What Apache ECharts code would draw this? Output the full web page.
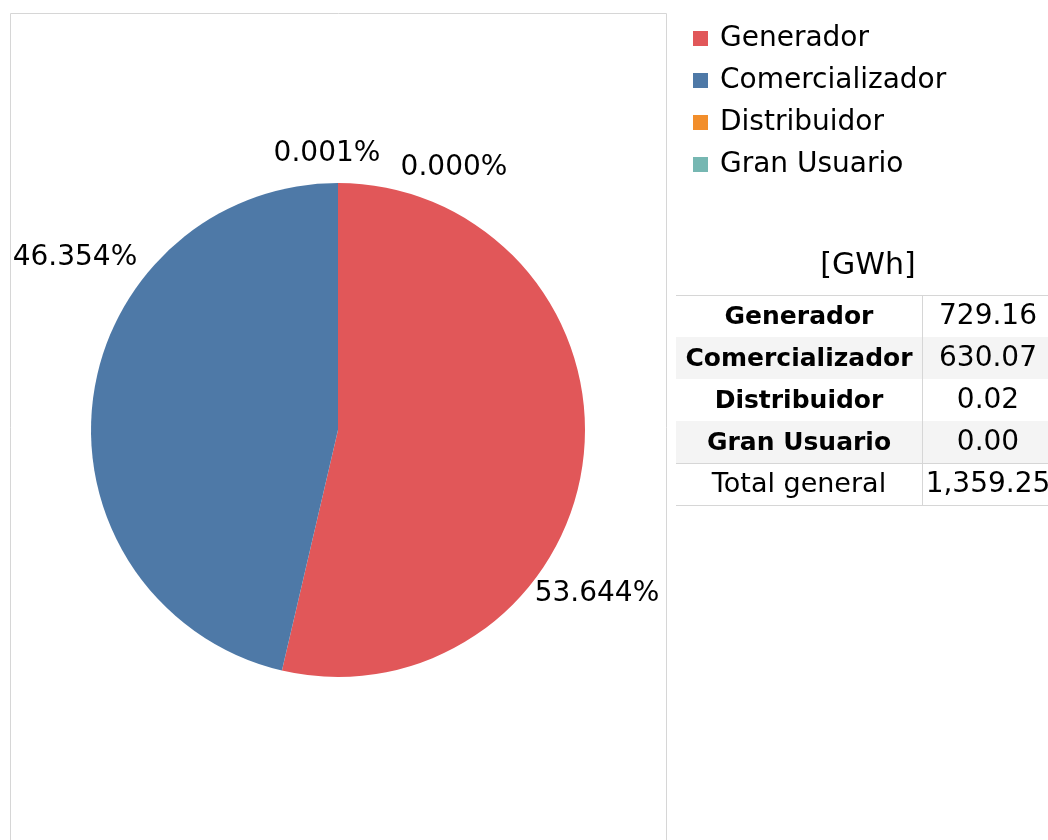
<!DOCTYPE html>
<html>
<head>
<meta charset="utf-8">
<script src="https://cdn.jsdelivr.net/npm/echarts@6/dist/echarts.min.js"></script>
<style>
  html, body { margin: 0; padding: 0; background: #fff; }
  #main { width: 1048px; height: 840px; }
</style>
</head>
<body>
<div id="main"></div>
<script>
// datos (GWh)
const categories = ["Generador", "Comercializador", "Distribuidor", "Gran Usuario"];
const energyGWh = [729.16, 630.07, 0.02, 0.0];
const totalLabel = "Total general";
const totalText = "1,359.25";
const unitTitle = "[GWh]";
const colors = ["#e15759", "#4e79a7", "#f28e2b", "#76b7b2"];

const font = "DejaVu Sans";
const sum = energyGWh.reduce((a, b) => a + b, 0);

// where tableau put the slice labels
const labelSpots = [[597, 594], [75, 258], [327, 154], [454, 168]];

// table built with graphic elements
const tableLeft = 676, tableMid = 922, tableRight = 1060, rowH = 42, tableTop = 295;
let graphic = [
	{ type: "rect", shape: { x: 10.5, y: 13.5, width: 656, height: 900 },
		style: { fill: null, stroke: "#d6d6d6", lineWidth: 1 }, z: 0 },
	{ type: "text", x: 868, y: 266, style: { text: unitTitle, font: "30px '" + font + "'",
		fill: "#000", align: "center", verticalAlign: "middle" } },
];
const rows = categories.map((c, i) => [c, energyGWh[i].toFixed(2), true]);
rows.push([totalLabel, totalText, false]);
rows.forEach((r, i) => {
	const y = tableTop + i * rowH;
	if (i % 2 === 1 && r[2]) {
		graphic.push({ type: "rect", shape: { x: tableLeft, y: y, width: tableRight - tableLeft, height: rowH },
			style: { fill: "#f4f4f4" }, z: 1 });
	}
	graphic.push({ type: "text", x: (tableLeft + tableMid) / 2, y: y + rowH / 2 + 1, z: 3,
		style: { text: r[0], font: r[2] ? "bold 25px '" + font + "'" : "27px '" + font + "'", fill: "#000",
			align: "center", verticalAlign: "middle" } });
	graphic.push({ type: "text", x: 988, y: y + rowH / 2 + 1, z: 3,
		style: { text: r[1], font: "28px '" + font + "'", fill: "#000",
			align: "center", verticalAlign: "middle" } });
});
[tableTop, tableTop + 4 * rowH, tableTop + 5 * rowH].forEach((y) => {
	graphic.push({ type: "line", shape: { x1: tableLeft, y1: y + 0.5, x2: tableRight, y2: y + 0.5 },
		style: { stroke: "#d6d6d6", lineWidth: 1 }, z: 2 });
});
graphic.push({ type: "line", shape: { x1: tableMid + 0.5, y1: tableTop, x2: tableMid + 0.5, y2: tableTop + 5 * rowH },
	style: { stroke: "#d6d6d6", lineWidth: 1 }, z: 2 });

const option = {
	animation: false,
	color: colors,
	textStyle: { fontFamily: font },
	legend: {
		orient: "vertical",
		left: 688,
		top: 16,
		icon: "rect",
		itemWidth: 15,
		itemHeight: 15,
		itemGap: 7,
		selectedMode: false,
		data: categories,
		textStyle: { fontSize: 28, lineHeight: 30, color: "#000", padding: [5, 0, 0, 7] },
	},
	graphic: graphic,
	series: [
		{
			type: "pie",
			center: [338, 430],
			radius: 247,
			startAngle: 90,
			clockwise: true,
			avoidLabelOverlap: false,
			data: categories.map((c, i) => ({ name: c, value: energyGWh[i] })),
			label: {
				show: true,
				position: "outside",
				fontSize: 28,
				color: "#000",
				formatter: (p) => ((p.value / sum) * 100).toFixed(3) + "%",
			},
			labelLine: { show: false },
			labelLayout: (p) => ({
				x: labelSpots[p.dataIndex][0],
				y: labelSpots[p.dataIndex][1],
				align: "center",
				verticalAlign: "middle",
			}),
			emphasis: { disabled: true },
		},
	],
};

const chart = echarts.init(document.getElementById("main"));
chart.setOption(option);
</script>
</body>
</html>
